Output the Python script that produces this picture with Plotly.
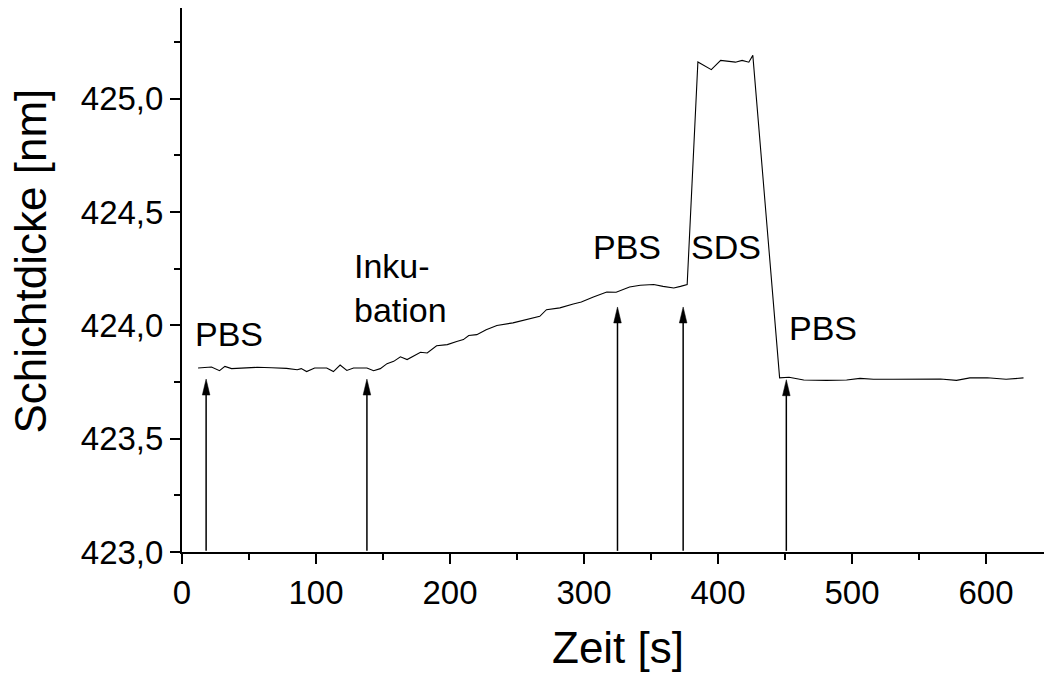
import plotly.graph_objects as go

# ---- data ----
zeit = [12, 22, 28, 32, 37, 47, 56, 67, 78, 86, 89, 93, 99, 108, 113, 118, 123, 128,
        138, 143, 148, 153, 158, 163, 168, 178, 183, 190, 198, 205, 210, 214, 220,
        227, 235, 247, 257, 267, 272, 282, 292, 298, 307, 317, 324, 334, 342, 352,
        359, 367, 372, 377, 385, 395, 402, 408, 413, 418, 423, 426, 446, 453, 464,
        481, 496, 506, 516, 531, 548, 566, 578, 588, 601, 615, 628]
dicke = [423.812, 423.816, 423.800, 423.819, 423.809, 423.812, 423.815, 423.813,
         423.810, 423.804, 423.809, 423.796, 423.812, 423.812, 423.796, 423.825,
         423.801, 423.812, 423.812, 423.800, 423.809, 423.831, 423.841, 423.861,
         423.849, 423.881, 423.878, 423.910, 423.915, 423.929, 423.937, 423.955,
         423.959, 423.981, 423.999, 424.011, 424.025, 424.040, 424.069, 424.077,
         424.094, 424.103, 424.125, 424.147, 424.146, 424.169, 424.177, 424.180,
         424.172, 424.165, 424.172, 424.180, 425.162, 425.128, 425.169, 425.165,
         425.161, 425.169, 425.161, 425.191, 423.768, 423.771, 423.759, 423.757,
         423.759, 423.766, 423.762, 423.762, 423.763, 423.763, 423.757, 423.768,
         423.769, 423.762, 423.768]

# arrows (time of solution change, arrow tip value)
arrow_t = [18, 138, 325, 374, 451]
arrow_tip = [423.763, 423.763, 424.081, 424.081, 423.760]
arrow_base = 423.005

# labels
label_text = ["PBS", "Inku-<br>bation", "PBS", "SDS", "PBS"]
label_t = [8.0, 127.0, 305.5, 378.5, 451.5]
label_v = [423.96, 424.165, 424.345, 424.345, 423.99]

x_ticks = [0, 100, 200, 300, 400, 500, 600]
y_ticks = [423.0, 423.5, 424.0, 424.5, 425.0]

# ---- layout geometry (body margin removed, so figure pixels = page pixels) ----
W, H = 1047, 673
ML, MR, MT, MB = 182, 3, 8, 121
XR = [0, 643.3]
YR = [423.0, 425.4]
pw, ph = W - ML - MR, H - MT - MB
px_per_x = pw / (XR[1] - XR[0])
px_per_y = ph / (YR[1] - YR[0])
head_half_w = 3.8 / px_per_x
head_len = 16 / px_per_y

FONT = "Liberation Sans, Arial, sans-serif"

fig = go.Figure()
fig.add_trace(go.Scatter(x=zeit, y=dicke, mode="lines",
                         line=dict(color="black", width=1.1),
                         hoverinfo="skip", showlegend=False))

shapes = []
for t, tip in zip(arrow_t, arrow_tip):
    shapes.append(dict(type="line", xref="x", yref="y", x0=t, x1=t,
                       y0=arrow_base, y1=tip - head_len * 0.8,
                       line=dict(color="black", width=1.5)))
    path = (f"M {t - head_half_w},{tip - head_len} L {t},{tip} "
            f"L {t + head_half_w},{tip - head_len} Z")
    shapes.append(dict(type="path", xref="x", yref="y", path=path,
                       fillcolor="black", line=dict(color="black", width=0.5)))

annotations = []
for txt, t, v in zip(label_text, label_t, label_v):
    annotations.append(dict(x=t, y=v, xref="x", yref="y", text=txt,
                            showarrow=False, xanchor="left", yanchor="middle",
                            align="left", font=dict(family=FONT, size=34, color="black")))

# title positions given in page pixels
annotations.append(dict(x=(618 - ML) / pw, y=(H - MB - 647) / ph,
                        xref="paper", yref="paper",
                        text="Zeit [s]", showarrow=False, xanchor="center", yanchor="middle",
                        font=dict(family=FONT, size=44, color="black")))
annotations.append(dict(x=(30 - ML) / pw, y=(H - MB - 261.5) / ph,
                        xref="paper", yref="paper",
                        text="Schichtdicke [nm]", textangle=-90, showarrow=False,
                        xanchor="center", yanchor="middle",
                        font=dict(family=FONT, size=44, color="black")))

axis_common = dict(showline=True, linecolor="black", linewidth=2, ticks="outside",
                   ticklen=10, tickwidth=2, tickcolor="black", showgrid=False,
                   zeroline=False, tickfont=dict(family=FONT, size=33, color="black"))

fig.update_layout(
    width=W, height=H,
    margin=dict(l=ML, r=MR, t=MT, b=MB, pad=0),
    paper_bgcolor="white", plot_bgcolor="white",
    separators=",.",
    xaxis=dict(range=XR, tickvals=x_ticks, ticktext=[str(v) for v in x_ticks],
               minor=dict(dtick=50, tick0=0, ticks="outside", ticklen=6, tickwidth=2,
                          tickcolor="black", showgrid=False),
               **axis_common),
    yaxis=dict(range=YR, tickvals=y_ticks, tickformat=".1f",
               minor=dict(dtick=0.25, tick0=423.0, ticks="outside", ticklen=6, tickwidth=2,
                          tickcolor="black", showgrid=False),
               **axis_common),
    shapes=shapes,
    annotations=annotations,
    showlegend=False,
)

fig.write_html("out.html", config={"displayModeBar": False},
               post_script="document.body.style.margin='0';document.body.style.overflow='hidden';")
